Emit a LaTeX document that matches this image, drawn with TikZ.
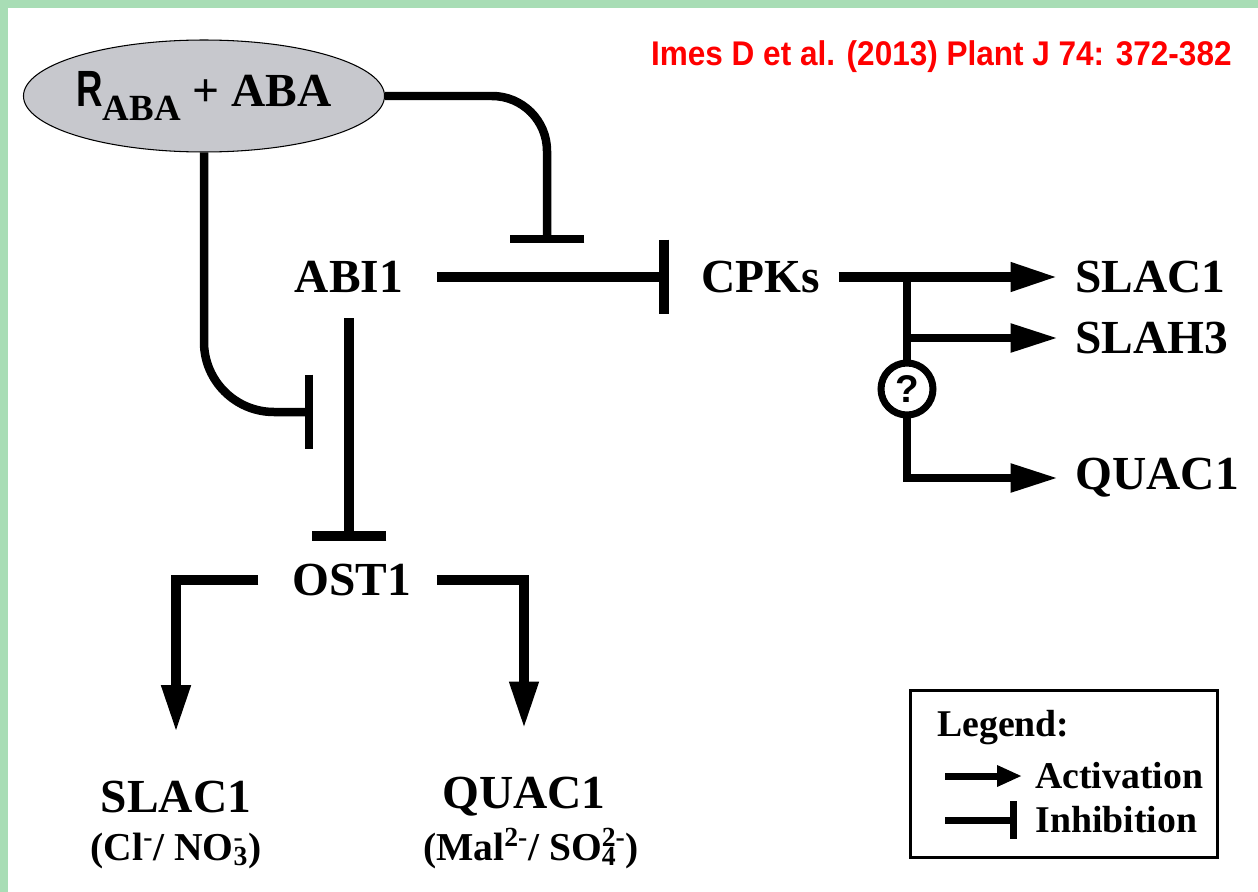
\documentclass[tikz,border=0pt]{standalone}
\usepackage{fontspec}
\setmainfont{Liberation Serif}
\setsansfont{Liberation Sans}
\newfontfamily\hdrfont[FakeStretch=0.92]{Liberation Sans}
\newfontfamily\narrowsans[FakeStretch=0.72]{Liberation Sans}
\usetikzlibrary{arrows.meta, shapes.geometric, positioning}
\definecolor{framegreen}{RGB}{168,221,181}
\definecolor{recgray}{RGB}{199,200,205}
\definecolor{hdrred}{RGB}{255,0,0}
\newcommand{\subsup}[2]{{\sbox0{\textsubscript{#1}}\sbox2{\textsuperscript{#2}}%
  \ifdim\wd0>\wd2 \rlap{\usebox2}\usebox0\else\rlap{\usebox0}\usebox2\fi}}

\begin{document}
\begin{tikzpicture}[x=0.02cm, y=-0.02cm,
    lbl/.style={font=\fontsize{27}{30}\selectfont\bfseries, inner sep=0pt},
    ion/.style={font=\fontsize{22.5}{24}\selectfont\bfseries, inner sep=0pt, anchor=base},
    leg/.style={font=\fontsize{21.5}{24}\selectfont\bfseries, inner sep=0pt},
    act/.style={line width=0.2cm, -{Triangle[length=0.95cm, width=0.54cm]}},
    inh/.style={line width=0.2cm, -{Bar[width=1.5cm]}},
    curved/.style={line width=0.17cm}]
  \useasboundingbox (0,0) rectangle (1258,892);
  \fill[white] (0,0) rectangle (1258,892);
  \fill[framegreen] (0,0) rectangle (1258,8);
  \fill[framegreen] (0,0) rectangle (8,892);

  \node[anchor=base east, text=hdrred, inner sep=0pt,
        font=\hdrfont\fontsize{19.5}{22}\selectfont\bfseries] (cite) at (1232,66)
        {Imes D et al. (2013) Plant J 74: 372-382};

  \node[ellipse, draw, line width=0.6pt, fill=recgray, minimum width=7.04cm,
        minimum height=2.24cm, inner sep=0pt] (rec) at (204,96)
        {\fontsize{27}{30}\selectfont\bfseries{\narrowsans\fontsize{29}{30}\selectfont R}\raisebox{-0.28cm}{\fontsize{21}{24}\selectfont ABA} + ABA};

  \node[lbl] (abi) at (349,277) {ABI1};
  \node[lbl] (cpk) at (761,277) {CPKs};
  \node[lbl, anchor=west] (slac) at (1075,277) {SLAC1};
  \node[lbl, anchor=west] (slah) at (1075,338) {SLAH3};
  \node[lbl, anchor=west] (quac) at (1075,478) {QUAC1};
  \node[lbl] (ost) at (352,580) {OST1};
  \node[lbl] (slacb) at (176,797) {SLAC1};
  \node[ion] (slacion) at (176,860) {(Cl\textsuperscript{-}/ NO\subsup{3}{-})};
  \node[lbl] (quacb) at (524,797) {QUAC1};
  \node[ion] (quacion) at (531,860) {(Mal\textsuperscript{2-}/ SO\subsup{4}{2-})};
  \node[circle, draw, line width=0.14cm, minimum size=1.04cm, inner sep=0pt,
        font=\sffamily\bfseries\fontsize{22}{24}\selectfont] (q) at (907,389) {?};

  \coordinate (br) at (907,277);
  \coordinate (bar1) at (547,243);
  \coordinate (bar2) at (313,412);

  \draw[inh, curved, rounded corners=1.1cm] (rec.east) -| (bar1);
  \draw[inh, curved, rounded corners=1.4cm] (rec.south) |- (bar2);
  \draw[inh] ([shift={(34,0)}]abi.east) -- ([shift={(-32,0)}]cpk.west);
  \draw[inh] ([shift={(0,25)}]abi.south) -- ([shift={(0,-23)}]abi.south |- ost.north);
  \draw[act] ([shift={(18,0)}]cpk.east) -- ([shift={(-17,0)}]slac.west);
  \draw[act, curved] (br) |- ([shift={(-17,0)}]slah.west);
  \draw[curved] (br) -- (q);
  \draw[act, curved] (q) |- ([shift={(-17,0)}]quac.west);
  \draw[act] ([shift={(-34,0)}]ost.west) -| ([shift={(0,-48)}]slacb.north);
  \draw[act] ([shift={(25,0)}]ost.east) -| ([shift={(0,-48)}]quacb.north);

  \node[draw, line width=0.06cm, minimum width=6.16cm, minimum height=3.36cm,
        inner sep=0pt] (legend) at (1064,774) {};
  \node[leg, anchor=west] (legtitle) at (937,728) {Legend:};
  \node[leg, anchor=west] (legact) at (1035,776) {Activation};
  \node[leg, anchor=west] (leginh) at (1035,820) {Inhibition};
  \coordinate (la) at (945,776);
  \coordinate (li) at (945,820);
  \draw[line width=0.14cm, -{Triangle[length=0.5cm, width=0.4cm]}] (la) -- ([shift={(-13,0)}]legact.west);
  \draw[line width=0.14cm, -{Bar[width=0.76cm]}] (li) -- ([shift={(-18,0)}]leginh.west);
\end{tikzpicture}
\end{document}
